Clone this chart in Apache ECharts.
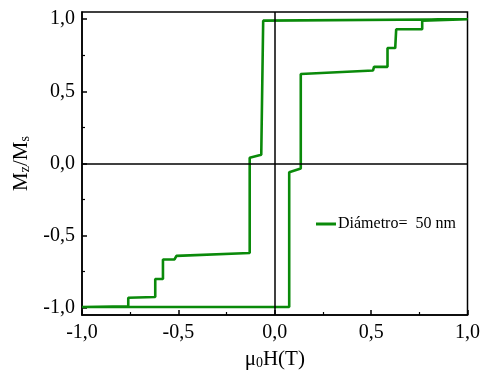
<!DOCTYPE html>
<html>
<head>
<meta charset="utf-8">
<script src="https://cdn.jsdelivr.net/npm/echarts@6/dist/echarts.min.js"></script>
<style>html,body{margin:0;padding:0;background:#fff}#c{width:483px;height:375px}</style>
</head>
<body>
<div id="c"></div>
<script>
// Descending branch (field sweep from +1 T to -1 T)
var descX = [1.0, -0.06, -0.07, -0.13, -0.13, -0.51, -0.52, -0.58, -0.58, -0.62, -0.62, -0.76, -0.76, -1.0];
var descY = [1.0, 0.99, 0.06, 0.04, -0.62, -0.64, -0.665, -0.665, -0.80, -0.80, -0.925, -0.93, -0.99, -0.995];
// Ascending branch (field sweep from -1 T to +1 T)
var ascX = [-1.0, 0.075, 0.075, 0.135, 0.135, 0.51, 0.515, 0.585, 0.585, 0.625, 0.63, 0.765, 0.765, 1.0];
var ascY = [-1.0, -0.995, -0.06, -0.035, 0.62, 0.645, 0.67, 0.67, 0.80, 0.80, 0.93, 0.93, 0.99, 1.0];
var xTicks = [-1.0, -0.5, 0.0, 0.5, 1.0];
var yTicks = [-1.0, -0.5, 0.0, 0.5, 1.0];
var yMinorTicks = [-0.75, -0.25, 0.25, 0.75];
var seriesName = 'Diámetro=  50 nm';

var pts = [];
descX.forEach(function (x, i) { pts.push([x, descY[i]]); });
ascX.forEach(function (x, i) { pts.push([x, ascY[i]]); });

var FONT = '"Liberation Serif", "Times New Roman", serif';
function fmt(v) { return Number(v).toFixed(1).replace('.', ','); }

var chart = echarts.init(document.getElementById('c'), null, {renderer: 'canvas'});
chart.setOption({
  animation: false,
  backgroundColor: '#fff',
  grid: {left: 82, right: 15, top: 12, bottom: 60, show: true, borderColor: '#000', borderWidth: 1.5, backgroundColor: 'transparent'},
  legend: {
    left: 311, top: 211, icon: 'rect', itemWidth: 20, itemHeight: 3, itemGap: 0,
    textStyle: {fontFamily: FONT, fontSize: 16, color: '#000', padding: [0, 0, 0, -3]},
    data: [seriesName]
  },
  xAxis: {
    type: 'value', min: -1, max: 1, interval: 0.5,
    name: 'μ{sub|0}H(T)', nameLocation: 'middle', nameGap: 33,
    nameTextStyle: {fontFamily: FONT, fontSize: 21, color: '#000',
      rich: {sub: {fontFamily: FONT, fontSize: 14, color: '#000', verticalAlign: 'bottom', padding: [8, 0, 0, 0]}}},
    axisLine: {onZero: false, lineStyle: {color: '#000', width: 1.5}},
    axisTick: {inside: true, length: 5, lineStyle: {color: '#000', width: 1.5}},
    minorTick: {show: true, splitNumber: 2, length: 3, lineStyle: {color: '#000', width: 1.2}},
    axisLabel: {fontFamily: FONT, fontSize: 20, color: '#000', margin: 8,
      customValues: xTicks, formatter: function (v) { return fmt(v); }},
    splitLine: {show: false}
  },
  yAxis: [{
    type: 'value', min: -1.05, max: 1.05,
    name: 'M{sub|z}/M{sub|s}', nameLocation: 'middle', nameGap: 41, nameRotate: 90,
    nameTextStyle: {fontFamily: FONT, fontSize: 21, color: '#000',
      rich: {sub: {fontFamily: FONT, fontSize: 14, color: '#000', verticalAlign: 'bottom', padding: [8, 0, 0, 0]}}},
    axisLine: {onZero: false, lineStyle: {color: '#000', width: 1.5}},
    axisTick: {inside: true, length: 5, customValues: yTicks, lineStyle: {color: '#000', width: 1.5}},
    axisLabel: {fontFamily: FONT, fontSize: 20, color: '#000', margin: 7,
      customValues: yTicks, formatter: function (v) { return fmt(v); }},
    splitLine: {show: false}
  }, {
    type: 'value', min: -1.05, max: 1.05, position: 'left',
    axisLine: {show: false, onZero: false},
    axisTick: {inside: true, length: 3, customValues: yMinorTicks, lineStyle: {color: '#000', width: 1.2}},
    axisLabel: {show: false},
    splitLine: {show: false}
  }],
  series: [
    {
      name: seriesName, type: 'line', data: pts, showSymbol: false, symbol: 'none',
      lineStyle: {color: '#0a8a0a', width: 2.6}, itemStyle: {color: '#0a8a0a'},
      z: 3,
      markLine: {
        silent: true, symbol: 'none', label: {show: false},
        lineStyle: {color: '#000', width: 1.5, type: 'solid'},
        data: [{xAxis: 0}, {yAxis: 0}]
      }
    }
  ]
});
</script>
</body>
</html>
